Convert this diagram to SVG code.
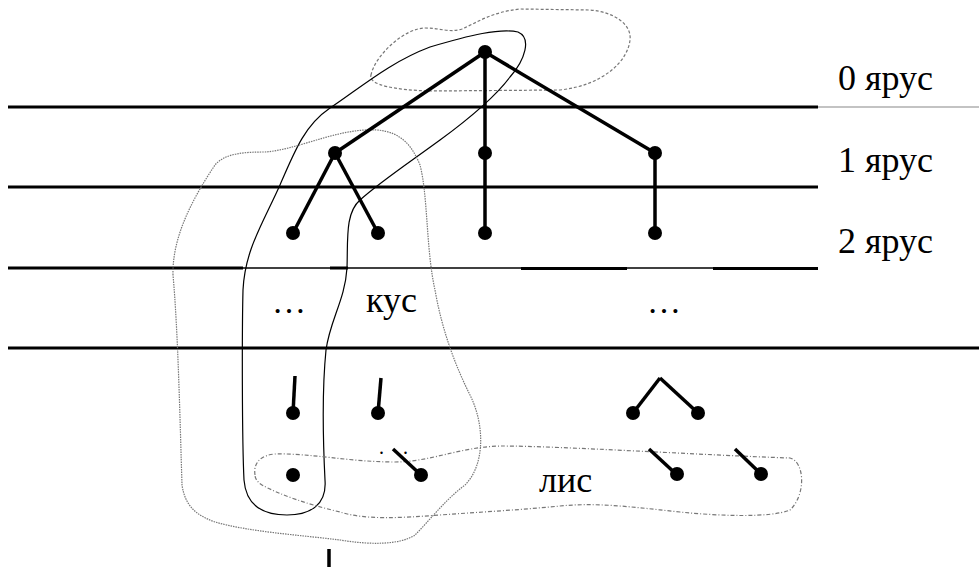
<svg xmlns="http://www.w3.org/2000/svg" width="979" height="569" viewBox="0 0 979 569">
<style>
.lvl{stroke:#000;stroke-width:3;fill:none}
.thin{stroke:#000;stroke-width:1.4;fill:none}
.edge{stroke:#000;stroke-width:3.5;fill:none;stroke-linecap:butt}
.dot{fill:#000}
.lbl{font-family:"Liberation Serif","Times New Roman",serif;font-size:36px;fill:#000}
.blob-solid{fill:none;stroke:#000;stroke-width:1.2}
.blob-dot{fill:none;stroke:#777;stroke-width:1.2;stroke-dasharray:1.5 1}
.blob-dash{fill:none;stroke:#777;stroke-width:1.2;stroke-dasharray:3 2}
.blob-dashdot{fill:none;stroke:#777;stroke-width:1.2;stroke-dasharray:4 2 1 2}
</style>
<rect width="979" height="569" fill="#fff"/>
<g id="levels">
<line class="lvl" x1="8" y1="107" x2="818" y2="107"/>
<line x1="818" y1="107" x2="979" y2="107" stroke="#888" stroke-width="1.2"/>
<line class="lvl" x1="8" y1="187" x2="818" y2="187"/>
<line class="lvl" x1="8" y1="268" x2="243" y2="268"/>
<line class="thin" x1="243" y1="268" x2="330" y2="268"/>
<line class="lvl" x1="330" y1="268" x2="348" y2="268"/>
<line class="thin" x1="348" y1="268" x2="521" y2="268"/>
<line class="lvl" x1="521" y1="268.5" x2="627" y2="268.5"/>
<line class="thin" x1="627" y1="268" x2="713" y2="268"/>
<line class="lvl" x1="713" y1="268.5" x2="818" y2="268.5"/>
<line class="lvl" x1="8" y1="348" x2="979" y2="348"/>
</g>
<g id="labels">
<text class="lbl" x="838" y="90">0 ярус</text>
<text class="lbl" x="838" y="172">1 ярус</text>
<text class="lbl" x="838" y="253">2 ярус</text>
<text class="lbl" x="272" y="313" style="font-size:34px">…</text>
<text class="lbl" x="647" y="313" style="font-size:34px">…</text>
<text class="lbl" x="366" y="312">кус</text>
<text class="lbl" x="539" y="492">лис</text>
</g>
<g id="regions">
<path id="region-top" class="blob-dash" d="M371,75 C375,55 405,28 425,28 C440,28 450,33 462,29 C478,22 492,12 520,9 L590,10 C615,12 632,25 630,40 C628,60 605,85 560,90 L430,91 C395,90 368,85 371,75 Z"/>
<path id="region-solid" class="blob-solid" d="M330,108 C360,88 390,62 430,47 C470,35 500,28 518,32 C532,38 525,60 510,77 C495,97 470,118 440,140 C410,162 380,182 360,200 C345,213 348,240 347,268 C345,300 330,320 326,350 C322,390 323,440 325,480 C327,505 310,515 287,515 C262,515 246,505 244,480 C242,440 242,330 243,290 C245,250 262,225 280,185 C295,150 305,125 330,108 Z"/>
<path id="region-kus" class="blob-dot" d="M173,275 C172,235 195,195 215,165 C225,153 245,152 265,152 C295,150 330,132 365,130 C395,128 410,140 420,165 C428,195 426,250 435,290 C442,330 455,365 470,395 C485,425 485,465 465,485 C445,500 430,520 415,535 C400,545 370,545 340,540 C300,535 250,532 215,522 C195,515 185,505 182,485 C180,420 178,330 173,275 Z"/>
<path id="region-lis" class="blob-dashdot" d="M255,475 C253,462 262,455 275,454 C310,453 350,462 395,462 C430,462 460,447 500,446 C560,446 700,455 790,458 C805,462 806,495 790,510 C770,518 720,516 680,512 C640,508 600,502 560,506 C520,510 480,512 440,515 C400,518 365,520 340,512 C310,505 280,495 262,485 C257,482 255,478 255,475 Z"/>
</g>
<g id="connectors">
<line class="edge" x1="485" y1="52" x2="335" y2="153"/>
<line class="edge" x1="485" y1="52" x2="485" y2="153"/>
<line class="edge" x1="485" y1="52" x2="655" y2="153"/>
<line class="edge" x1="335" y1="153" x2="293" y2="233"/>
<line class="edge" x1="335" y1="153" x2="378" y2="233"/>
<line class="edge" x1="485" y1="153" x2="485" y2="233"/>
<line class="edge" x1="655" y1="153" x2="655" y2="233"/>
<line class="edge" x1="295" y1="376" x2="293" y2="413"/>
<line class="edge" x1="381" y1="378" x2="378" y2="413"/>
<line class="edge" x1="660" y1="378" x2="633" y2="413"/>
<line class="edge" x1="660" y1="378" x2="698" y2="413"/>
<line class="edge" x1="393" y1="449" x2="421" y2="475"/>
<line class="edge" x1="649" y1="449" x2="676" y2="474"/>
<line class="edge" x1="735" y1="449" x2="761" y2="474"/>
<line class="edge" x1="329" y1="549" x2="329" y2="567"/>
</g>
<text class="lbl" x="379 403" y="454" style="font-size:20px">..</text>
<g id="n-root"><circle class="dot" cx="485" cy="52" r="7"/></g>
<g id="n-1a"><circle class="dot" cx="335" cy="153" r="7"/></g>
<g id="n-1b"><circle class="dot" cx="485" cy="153" r="7"/></g>
<g id="n-1c"><circle class="dot" cx="655" cy="153" r="7"/></g>
<g id="n-2a"><circle class="dot" cx="293" cy="233" r="7"/></g>
<g id="n-2b"><circle class="dot" cx="378" cy="233" r="7"/></g>
<g id="n-2c"><circle class="dot" cx="485" cy="233" r="7"/></g>
<g id="n-2d"><circle class="dot" cx="655" cy="233" r="7"/></g>
<g id="n-3a"><circle class="dot" cx="293" cy="413" r="7"/></g>
<g id="n-3b"><circle class="dot" cx="378" cy="413" r="7"/></g>
<g id="n-3c"><circle class="dot" cx="633" cy="413" r="7"/></g>
<g id="n-3d"><circle class="dot" cx="698" cy="413" r="7"/></g>
<g id="n-4a"><circle class="dot" cx="293" cy="475" r="7"/></g>
<g id="n-4b"><circle class="dot" cx="421" cy="475" r="7"/></g>
<g id="n-4c"><circle class="dot" cx="677" cy="474" r="7"/></g>
<g id="n-4d"><circle class="dot" cx="761" cy="474" r="7"/></g>
</svg>
